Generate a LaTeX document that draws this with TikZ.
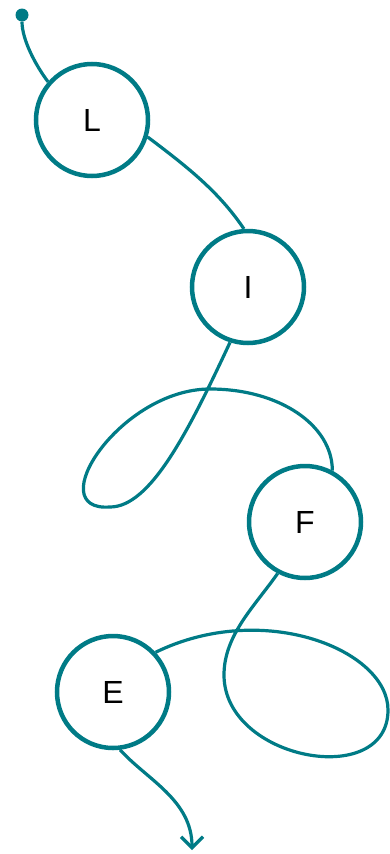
\documentclass[tikz,border=0pt]{standalone}
\usepackage{fontspec}
\setmainfont{Liberation Sans}
\usetikzlibrary{arrows.meta}
\definecolor{linkteal}{RGB}{0,123,134}
\begin{document}
\begin{tikzpicture}[x=1pt,y=1pt,
    state/.style={circle, draw=linkteal, line width=4.5pt, minimum size=112pt, inner sep=0pt, font=\fontsize{32}{38}\selectfont},
    link/.style={draw=linkteal, line width=3.2pt},
    dot/.style={circle, fill=linkteal, minimum size=13pt, inner sep=0pt}]
    \useasboundingbox (0,0) rectangle (389,-854);

    % States
    \node[dot] (start) at (22,-15) {};
    \node[state] (L) at (92,-120) {L};
    \node[state] (I) at (248,-287) {I};
    \node[state] (F) at (305,-522) {F};
    \node[state] (E) at (113,-692) {E};

    % Loop points
    \coordinate (a1) at (110,-507);
    \coordinate (a2) at (210,-389);
    \coordinate (b1) at (224,-675);
    \coordinate (b2) at (388,-710);
    \coordinate (end) at (192,-850);

    % Links
    \draw[link] (start) .. controls +(-90:25) and +(127:20) .. (L.139);
    \draw[link] (L.343) .. controls +(-37:50) and +(124:45) .. (I.94);
    \draw[link] (I.252) .. controls +(245:100) and +(0:40) .. (a1)
        .. controls +(-70,-5) and +(180:90) .. (a2)
        .. controls +(0:70) and +(90:45) .. (F.62);
    \draw[link] (F.242) .. controls +(235:40) and +(90:40) .. (b1)
        .. controls +(-90:85) and +(-90:80) .. (b2)
        .. controls +(90:60) and +(26:120) .. (E.43);
    \draw[link, -{Straight Barb[length=11pt,width=22pt]}] (E.277) .. controls +(-48:40) and +(90:50) .. (end);
\end{tikzpicture}
\end{document}
